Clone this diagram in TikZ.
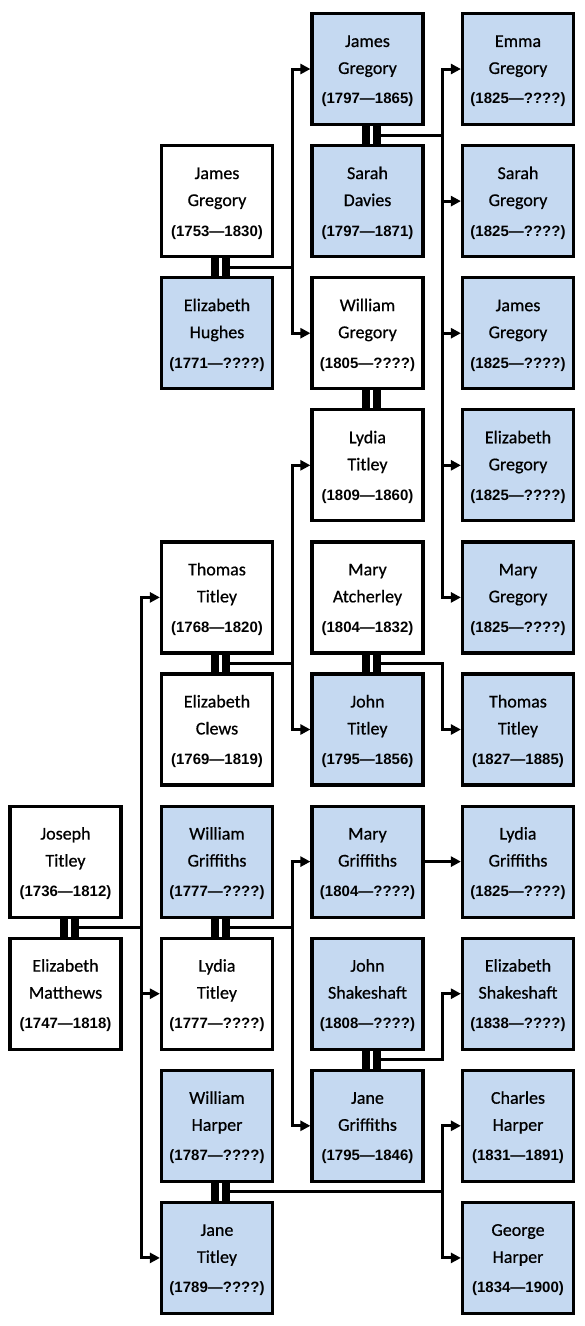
\documentclass[tikz,border=0pt]{standalone}
\usepackage{fontspec}
\setmainfont{Carlito}[FakeBold=0.6]
\newfontfamily\datefont{Liberation Sans}
\usetikzlibrary{arrows.meta,calc}
\definecolor{kinblue}{RGB}{197,217,241}
\newcommand\who[3]{\rule{0pt}{16pt}#1\\#2\\[3pt]{\datefont\bfseries\fontsize{15}{17}\selectfont(#3)}}
\newcommand\couple[3]{%
  \draw[wed] ([xshift=-2pt]#1.south) -- ([xshift=-2pt]#2.north);
  \draw[wed] ([xshift=9pt]#1.south) -- ([xshift=9pt]#2.north);
  \coordinate (#3) at ($(#1.south)!.5!(#2.north)+(9,0)$);}

\begin{document}
\begin{tikzpicture}[x=1pt,y=-1pt,>={Triangle[length=10pt,width=10pt]},line join=miter,
  person/.style={draw,line width=3.2pt,fill=white,minimum width=111pt,minimum height=111pt,
    inner sep=0pt,align=center,font=\fontsize{18}{27}\selectfont},
  kin/.style={person,fill=kinblue},
  wed/.style={line width=8pt},
  link/.style={line width=3pt,->}]
	\def\ca{65.5} \def\cb{217} \def\cc{367.5} \def\cd{518} % column centres
	\def\ry#1{69+132.1*#1} % row centres
	\useasboundingbox (0,0) rectangle (584,1326);
	\coordinate (jA) at (141,0);
	\coordinate (jB) at (292.5,0);
	\coordinate (jC) at (442.5,0);

	% column 1
	\node[person] (josephT) at (\ca,\ry{6}) {\who{Joseph}{Titley}{1736—1812}};
	\node[person] (elizabethM) at (\ca,\ry{7}) {\who{Elizabeth}{Matthews}{1747—1818}};

	% column 2
	\node[person] (jamesG) at (\cb,\ry{1}) {\who{James}{Gregory}{1753—1830}};
	\node[kin] (elizabethH) at (\cb,\ry{2}) {\who{Elizabeth}{Hughes}{1771—????}};
	\node[person] (thomasT) at (\cb,\ry{4}) {\who{Thomas}{Titley}{1768—1820}};
	\node[person] (elizabethC) at (\cb,\ry{5}) {\who{Elizabeth}{Clews}{1769—1819}};
	\node[kin] (williamG) at (\cb,\ry{6}) {\who{William}{Griffiths}{1777—????}};
	\node[person] (lydiaT) at (\cb,\ry{7}) {\who{Lydia}{Titley}{1777—????}};
	\node[kin] (williamH) at (\cb,\ry{8}) {\who{William}{Harper}{1787—????}};
	\node[kin] (janeT) at (\cb,\ry{9}) {\who{Jane}{Titley}{1789—????}};

	% column 3
	\node[kin] (jamesG2) at (\cc,\ry{0}) {\who{James}{Gregory}{1797—1865}};
	\node[kin] (sarahD) at (\cc,\ry{1}) {\who{Sarah}{Davies}{1797—1871}};
	\node[person] (williamGr) at (\cc,\ry{2}) {\who{William}{Gregory}{1805—????}};
	\node[person] (lydiaT2) at (\cc,\ry{3}) {\who{Lydia}{Titley}{1809—1860}};
	\node[person] (maryA) at (\cc,\ry{4}) {\who{Mary}{Atcherley}{1804—1832}};
	\node[kin] (johnT) at (\cc,\ry{5}) {\who{John}{Titley}{1795—1856}};
	\node[kin] (maryG) at (\cc,\ry{6}) {\who{Mary}{Griffiths}{1804—????}};
	\node[kin] (johnS) at (\cc,\ry{7}) {\who{John}{Shakeshaft}{1808—????}};
	\node[kin] (janeG) at (\cc,\ry{8}) {\who{Jane}{Griffiths}{1795—1846}};

	% column 4
	\node[kin] (emmaG) at (\cd,\ry{0}) {\who{Emma}{Gregory}{1825—????}};
	\node[kin] (sarahG) at (\cd,\ry{1}) {\who{Sarah}{Gregory}{1825—????}};
	\node[kin] (jamesG3) at (\cd,\ry{2}) {\who{James}{Gregory}{1825—????}};
	\node[kin] (elizabethG) at (\cd,\ry{3}) {\who{Elizabeth}{Gregory}{1825—????}};
	\node[kin] (maryGr) at (\cd,\ry{4}) {\who{Mary}{Gregory}{1825—????}};
	\node[kin] (thomasT2) at (\cd,\ry{5}) {\who{Thomas}{Titley}{1827—1885}};
	\node[kin] (lydiaG) at (\cd,\ry{6}) {\who{Lydia}{Griffiths}{1825—????}};
	\node[kin] (elizabethS) at (\cd,\ry{7}) {\who{Elizabeth}{Shakeshaft}{1838—????}};
	\node[kin] (charlesH) at (\cd,\ry{8}) {\who{Charles}{Harper}{1831—1891}};
	\node[kin] (georgeH) at (\cd,\ry{9}) {\who{George}{Harper}{1834—1900}};

	% marriages
	\couple{josephT}{elizabethM}{w1}
	\couple{jamesG}{elizabethH}{w2}
	\couple{thomasT}{elizabethC}{w3}
	\couple{williamG}{lydiaT}{w4}
	\couple{williamH}{janeT}{w5}
	\couple{jamesG2}{sarahD}{w6}
	\couple{williamGr}{lydiaT2}{w7}
	\couple{maryA}{johnT}{w8}
	\couple{johnS}{janeG}{w9}

	% children
	\foreach \k in {thomasT,lydiaT,janeT} \draw[link] (w1) -- (w1 -| jA) |- (\k.west);
	\foreach \k in {jamesG2,williamGr} \draw[link] (w2) -- (w2 -| jB) |- (\k.west);
	\foreach \k in {lydiaT2,johnT} \draw[link] (w3) -- (w3 -| jB) |- (\k.west);
	\foreach \k in {maryG,janeG} \draw[link] (w4) -- (w4 -| jB) |- (\k.west);
	\foreach \k in {charlesH,georgeH} \draw[link] (w5) -- (w5 -| jC) |- (\k.west);
	\foreach \k in {emmaG,sarahG,jamesG3,elizabethG,maryGr} \draw[link] (w6) -- (w6 -| jC) |- (\k.west);
	\draw[link] (w8) -- (w8 -| jC) |- (thomasT2.west);
	\draw[link] (w9) -- (w9 -| jC) |- (elizabethS.west);
	\draw[link] (maryG) -- (lydiaG);
\end{tikzpicture}
\end{document}
